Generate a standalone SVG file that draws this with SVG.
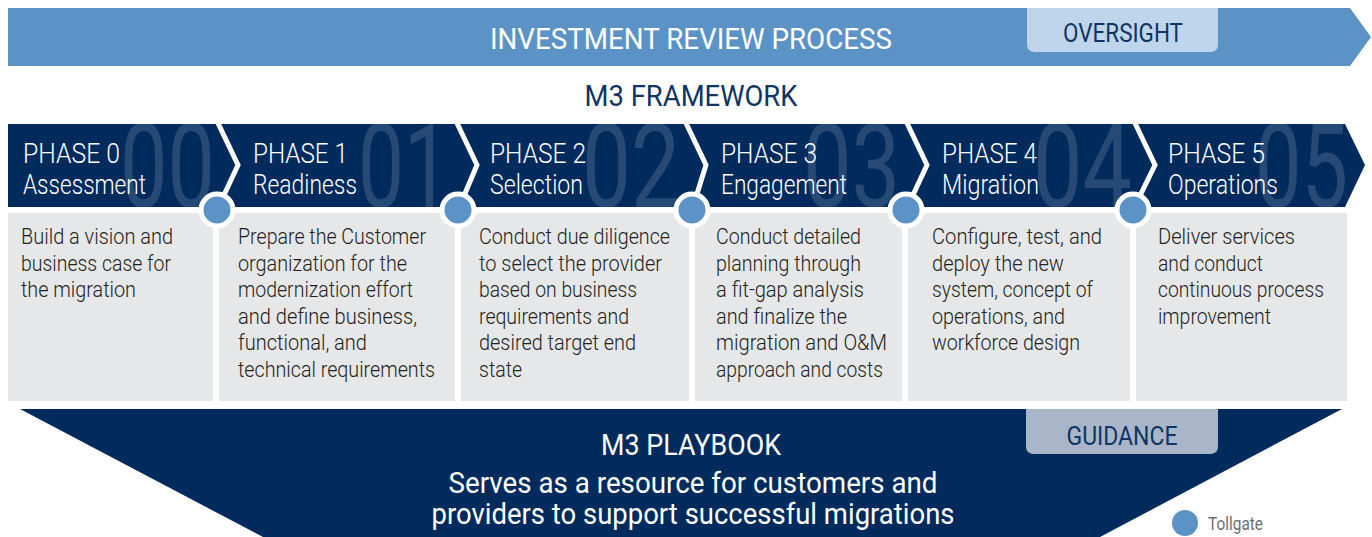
<svg xmlns="http://www.w3.org/2000/svg" width="1372" height="537" viewBox="0 0 1372 537">
<style>
.cond{font-family:Roboto,"Liberation Sans",sans-serif;}
.ttl{font-family:Roboto,"Liberation Sans",sans-serif;font-size:29px;}
.ph{font-family:Roboto,"Liberation Sans",sans-serif;font-size:28px;font-weight:300;fill:#ffffff;}
.num{font-family:Roboto,"Liberation Sans",sans-serif;font-size:116px;fill:#ffffff;fill-opacity:0.15;}
.body{font-family:Roboto,"Liberation Sans",sans-serif;font-size:22px;font-weight:300;fill:#231f20;}
.box{fill:#e6e7e8;}
.sep{fill:none;stroke:#ffffff;stroke-width:5;stroke-linejoin:miter;}
.gate{fill:#5b93c6;stroke:#ffffff;stroke-width:5;}
</style>
<defs>
<clipPath id="barclip"><polygon points="8,124 1345,124 1365,165 1345,207 8,207"/></clipPath>
</defs>
<rect width="1372" height="537" fill="#ffffff"/>

<g id="investment-review">
<polygon points="8,8 1350,8 1371,37 1350,66 8,66" fill="#5b93c6"/>
<text class="ttl" x="691" y="49" text-anchor="middle" fill="#ffffff" textLength="402" lengthAdjust="spacingAndGlyphs">INVESTMENT REVIEW PROCESS</text>
</g>
<g id="oversight">
<path d="M1027,8 H1218 V44 Q1218,52 1210,52 H1035 Q1027,52 1027,44 Z" fill="#bed5eb"/>
<text class="cond" x="1123" y="42" text-anchor="middle" font-size="26" fill="#0e3563" textLength="120" lengthAdjust="spacingAndGlyphs">OVERSIGHT</text>
</g>
<g id="framework-title">
<text class="ttl" x="691" y="106" text-anchor="middle" fill="#0e3563" textLength="213" lengthAdjust="spacingAndGlyphs">M3 FRAMEWORK</text>
</g>

<g id="phase-bar">
<polygon points="8,124 1345,124 1365,165 1345,207 8,207" fill="#012b5d"/>
<g clip-path="url(#barclip)">
<text class="num" x="120" y="207" textLength="95" lengthAdjust="spacingAndGlyphs">00</text>
<text class="num" x="358" y="207" textLength="92" lengthAdjust="spacingAndGlyphs">01</text>
<text class="num" x="582" y="207" textLength="98" lengthAdjust="spacingAndGlyphs">02</text>
<text class="num" x="803" y="207" textLength="97" lengthAdjust="spacingAndGlyphs">03</text>
<text class="num" x="1033" y="207" textLength="99" lengthAdjust="spacingAndGlyphs">04</text>
<text class="num" x="1255" y="207" textLength="93" lengthAdjust="spacingAndGlyphs">05</text>
</g>
</g>

<g id="connectors">
<polyline class="sep" points="217,121 238,165 217,210"/>
<polyline class="sep" points="456,121 477,165 458,210"/>
<polyline class="sep" points="685,121 706,165 692,210"/>
<polyline class="sep" points="906,121 927,165 906,210"/>
<polyline class="sep" points="1134,121 1155,165 1133,210"/>
</g>

<g id="phase-0">
<rect class="box" x="8" y="213" width="205" height="188"/>
<text class="ph" x="23" y="163" textLength="97" lengthAdjust="spacingAndGlyphs">PHASE 0</text>
<text class="ph" x="23" y="194" textLength="123" lengthAdjust="spacingAndGlyphs">Assessment</text>
<text class="body" x="21" y="244" textLength="152" lengthAdjust="spacingAndGlyphs">Build a vision and</text>
<text class="body" x="21" y="270.5" textLength="150" lengthAdjust="spacingAndGlyphs">business case for</text>
<text class="body" x="21" y="297" textLength="115" lengthAdjust="spacingAndGlyphs">the migration</text>
</g>
<g id="phase-1">
<rect class="box" x="219" y="213" width="236" height="188"/>
<text class="ph" x="253" y="163" textLength="95" lengthAdjust="spacingAndGlyphs">PHASE 1</text>
<text class="ph" x="253" y="194" textLength="104" lengthAdjust="spacingAndGlyphs">Readiness</text>
<text class="body" x="238" y="244" textLength="188" lengthAdjust="spacingAndGlyphs">Prepare the Customer</text>
<text class="body" x="238" y="270.5" textLength="169" lengthAdjust="spacingAndGlyphs">organization for the</text>
<text class="body" x="238" y="297" textLength="175" lengthAdjust="spacingAndGlyphs">modernization effort</text>
<text class="body" x="238" y="323.5" textLength="179" lengthAdjust="spacingAndGlyphs">and define business,</text>
<text class="body" x="238" y="350" textLength="129" lengthAdjust="spacingAndGlyphs">functional, and</text>
<text class="body" x="238" y="376.5" textLength="197" lengthAdjust="spacingAndGlyphs">technical requirements</text>
</g>
<g id="phase-2">
<rect class="box" x="461" y="213" width="228" height="188"/>
<text class="ph" x="490" y="163" textLength="96" lengthAdjust="spacingAndGlyphs">PHASE 2</text>
<text class="ph" x="490" y="194" textLength="93" lengthAdjust="spacingAndGlyphs">Selection</text>
<text class="body" x="479" y="244" textLength="191" lengthAdjust="spacingAndGlyphs">Conduct due diligence</text>
<text class="body" x="479" y="270.5" textLength="183" lengthAdjust="spacingAndGlyphs">to select the provider</text>
<text class="body" x="479" y="297" textLength="158" lengthAdjust="spacingAndGlyphs">based on business</text>
<text class="body" x="479" y="323.5" textLength="150" lengthAdjust="spacingAndGlyphs">requirements and</text>
<text class="body" x="479" y="350" textLength="157" lengthAdjust="spacingAndGlyphs">desired target end</text>
<text class="body" x="479" y="376.5" textLength="43" lengthAdjust="spacingAndGlyphs">state</text>
</g>
<g id="phase-3">
<rect class="box" x="695" y="213" width="207" height="188"/>
<text class="ph" x="721" y="163" textLength="96" lengthAdjust="spacingAndGlyphs">PHASE 3</text>
<text class="ph" x="721" y="194" textLength="126" lengthAdjust="spacingAndGlyphs">Engagement</text>
<text class="body" x="716" y="244" textLength="145" lengthAdjust="spacingAndGlyphs">Conduct detailed</text>
<text class="body" x="716" y="270.5" textLength="145" lengthAdjust="spacingAndGlyphs">planning through</text>
<text class="body" x="716" y="297" textLength="148" lengthAdjust="spacingAndGlyphs">a fit-gap analysis</text>
<text class="body" x="716" y="323.5" textLength="131" lengthAdjust="spacingAndGlyphs">and finalize the</text>
<text class="body" x="716" y="350" textLength="171" lengthAdjust="spacingAndGlyphs">migration and O&amp;M</text>
<text class="body" x="716" y="376.5" textLength="167" lengthAdjust="spacingAndGlyphs">approach and costs</text>
</g>
<g id="phase-4">
<rect class="box" x="908" y="213" width="222" height="188"/>
<text class="ph" x="942" y="163" textLength="95" lengthAdjust="spacingAndGlyphs">PHASE 4</text>
<text class="ph" x="942" y="194" textLength="97" lengthAdjust="spacingAndGlyphs">Migration</text>
<text class="body" x="932" y="244" textLength="170" lengthAdjust="spacingAndGlyphs">Configure, test, and</text>
<text class="body" x="932" y="270.5" textLength="132" lengthAdjust="spacingAndGlyphs">deploy the new</text>
<text class="body" x="932" y="297" textLength="161" lengthAdjust="spacingAndGlyphs">system, concept of</text>
<text class="body" x="932" y="323.5" textLength="133" lengthAdjust="spacingAndGlyphs">operations, and</text>
<text class="body" x="932" y="350" textLength="148" lengthAdjust="spacingAndGlyphs">workforce design</text>
</g>
<g id="phase-5">
<rect class="box" x="1136" y="213" width="211" height="188"/>
<text class="ph" x="1168" y="163" textLength="97" lengthAdjust="spacingAndGlyphs">PHASE 5</text>
<text class="ph" x="1168" y="194" textLength="110" lengthAdjust="spacingAndGlyphs">Operations</text>
<text class="body" x="1158" y="244" textLength="137" lengthAdjust="spacingAndGlyphs">Deliver services</text>
<text class="body" x="1158" y="270.5" textLength="105" lengthAdjust="spacingAndGlyphs">and conduct</text>
<text class="body" x="1158" y="297" textLength="166" lengthAdjust="spacingAndGlyphs">continuous process</text>
<text class="body" x="1158" y="323.5" textLength="113" lengthAdjust="spacingAndGlyphs">improvement</text>
</g>

<g id="tollgates">
<circle class="gate" cx="217" cy="210" r="16"/>
<circle class="gate" cx="458" cy="210" r="16"/>
<circle class="gate" cx="692" cy="210" r="16"/>
<circle class="gate" cx="906" cy="210" r="16"/>
<circle class="gate" cx="1133" cy="210" r="16"/>
</g>

<g id="playbook">
<polygon points="20,409 1342,409 1100,537 263,537" fill="#012b5d"/>
<text class="ttl" x="691" y="455" text-anchor="middle" fill="#ffffff" textLength="180" lengthAdjust="spacingAndGlyphs">M3 PLAYBOOK</text>
<text class="ttl" x="693" y="493" text-anchor="middle" fill="#ffffff" textLength="489" lengthAdjust="spacingAndGlyphs">Serves as a resource for customers and</text>
<text class="ttl" x="693" y="524" text-anchor="middle" fill="#ffffff" textLength="523" lengthAdjust="spacingAndGlyphs">providers to support successful migrations</text>
</g>
<g id="guidance">
<path d="M1026,409 H1218 V446 Q1218,454 1210,454 H1034 Q1026,454 1026,446 Z" fill="#a9b6c9"/>
<text class="cond" x="1122" y="445" text-anchor="middle" font-size="25" fill="#0e3563" textLength="111" lengthAdjust="spacingAndGlyphs">GUIDANCE</text>
</g>

<g id="legend">
<circle cx="1185" cy="523" r="13" fill="#5b93c6"/>
<text class="cond" x="1208" y="530" font-size="18" fill="#6d6e71" textLength="55" lengthAdjust="spacingAndGlyphs">Tollgate</text>
</g>
</svg>
